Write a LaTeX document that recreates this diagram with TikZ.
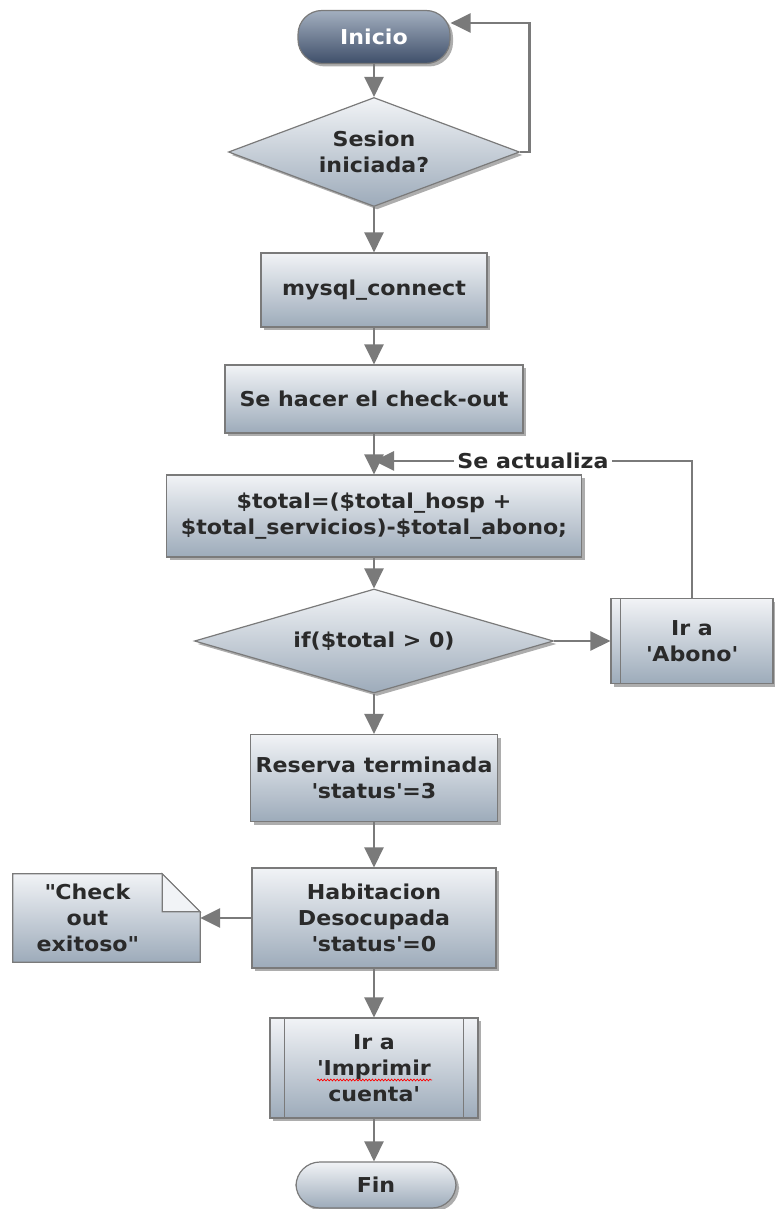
\documentclass[tikz,border=0pt]{standalone}
\usepackage{fontspec}
\setmainfont{DejaVu Sans}[FakeStretch=1.08]
\usetikzlibrary{shapes.geometric,arrows.meta,shadows,backgrounds,calc,decorations.pathmorphing}

\definecolor{boxtop}{HTML}{F1F3F6}
\definecolor{boxbot}{HTML}{9DABBA}
\definecolor{edgegray}{HTML}{7A7A7A}
\definecolor{termtop}{HTML}{A3AFBF}
\definecolor{termbot}{HTML}{3F4F6A}
\definecolor{conngray}{HTML}{7A7A7A}
\definecolor{txt}{HTML}{2A2A2A}

\tikzset{
  lbltext/.style={font=\fontsize{20.5}{26}\selectfont\bfseries, text=txt, align=center},
  base/.style={lbltext, draw=edgegray, line width=1.2pt, top color=boxtop, bottom color=boxbot,
    inner sep=0pt, drop shadow={shadow xshift=3pt, shadow yshift=-3pt, fill=black, opacity=0.32}},
  procbox/.style={base, rectangle},
  decbox/.style={base, diamond, aspect=3},
  termbox/.style={base, rectangle, rounded corners=24pt},
  startbox/.style={termbox, top color=termtop, bottom color=termbot, text=white},
  subline/.style={draw=edgegray, line width=1.2pt},
  arr/.style={draw=conngray, line width=2.8pt, -{Triangle[length=20pt,width=19pt]}},
  lbl/.style={lbltext, fill=white, inner sep=3pt},
  notebody/.style={lbltext, inner sep=0pt},
  noteshape/.style={draw=edgegray, line width=1.2pt, top color=boxtop, bottom color=boxbot},
  squiggle/.style={draw=red, line width=0.7pt, decorate, decoration={snake, amplitude=0.9pt, segment length=3.2pt}}
}

\begin{document}
\begin{tikzpicture}[x=1pt,y=-1pt]
\useasboundingbox (0,0) rectangle (775,1209);

% main column
\node[startbox, minimum width=152pt, minimum height=53pt] (start) at (374,37) {Inicio};
\node[decbox, minimum width=291pt, minimum height=109pt] (d1) at (374,152) {Sesion\\iniciada?};
\node[procbox, minimum width=226pt, minimum height=74pt] (conn) at (374,290) {mysql\_connect};
\node[procbox, minimum width=298pt, minimum height=68pt] (chk) at (374,399) {Se hacer el check-out};
\node[procbox, minimum width=415pt, minimum height=82pt] (tot) at (374,516)
  {\$total=(\$total\_hosp +\\\$total\_servicios)-\$total\_abono;};
\node[decbox, aspect=3.45, minimum width=359pt, minimum height=104pt] (d2) at (374,641) {if(\$total > 0)};
\node[procbox, minimum width=162pt, minimum height=85pt] (ab) at (692,641)
  {Ir a\\\textquotesingle Abono\textquotesingle};
\node[procbox, minimum width=247pt, minimum height=87pt] (res) at (374,778)
  {Reserva terminada\\\textquotesingle status\textquotesingle=3};
\node[procbox, minimum width=244pt, minimum height=100pt] (hab) at (374,918)
  {Habitacion\\Desocupada\\\textquotesingle status\textquotesingle=0};
\node[procbox, minimum width=208pt, minimum height=100pt] (imp) at (374,1068)
  {Ir a\\\textquotesingle Imprimir\\cuenta\textquotesingle};
\node[termbox, minimum width=160pt, minimum height=46pt] (fin) at (376,1185) {Fin};

% note with folded corner
\node[notebody, minimum width=149pt, minimum height=88pt] (nt) at (87.5,918)
  {\textquotedbl Check\\out\\exitoso\textquotedbl};
\begin{scope}[on background layer]
  \path[noteshape] (nt.north west) -- (nt.north east) -- ([xshift=38pt,yshift=-38pt]nt.north east)
    -- ([xshift=38pt]nt.south east) -- (nt.south west) -- cycle;
  \draw[subline, fill=boxtop] (nt.north east) -- ([yshift=-38pt]nt.north east)
    -- ([xshift=38pt,yshift=-38pt]nt.north east) -- cycle;
\end{scope}

% predefined-process side bars
\draw[subline] ([xshift=10pt]ab.north west) -- ([xshift=10pt]ab.south west);
\draw[subline] ([xshift=15pt]imp.north west) -- ([xshift=15pt]imp.south west);
\draw[subline] ([xshift=-15pt]imp.north east) -- ([xshift=-15pt]imp.south east);

% spell-check underline
\draw[squiggle] ([xshift=-57pt,yshift=-12pt]imp.center) -- ([xshift=58pt,yshift=-12pt]imp.center);

% connectors
\draw[arr] (start) -- (d1);
\draw[arr] (d1.east) -- ++(9,0) |- ([yshift=14pt]start.east);
\draw[arr] (d1) -- (conn);
\draw[arr] (conn) -- (chk);
\draw[arr] (chk) -- (tot);
\coordinate (upd) at ($(chk.south)!0.67!(tot.north)$);
\draw[arr] (ab.north) |- node[pos=0.75, lbl] {Se actualiza} (upd);
\draw[arr] (tot) -- (d2);
\draw[arr] (d2.east) -- (ab.west);
\draw[arr] (d2) -- (res);
\draw[arr] (res) -- (hab);
\draw[arr] (hab.west) -- ([xshift=38pt]nt.east);
\draw[arr] (hab) -- (imp);
\draw[arr] (imp) -- (fin.north -| imp.south);
\end{tikzpicture}
\end{document}
